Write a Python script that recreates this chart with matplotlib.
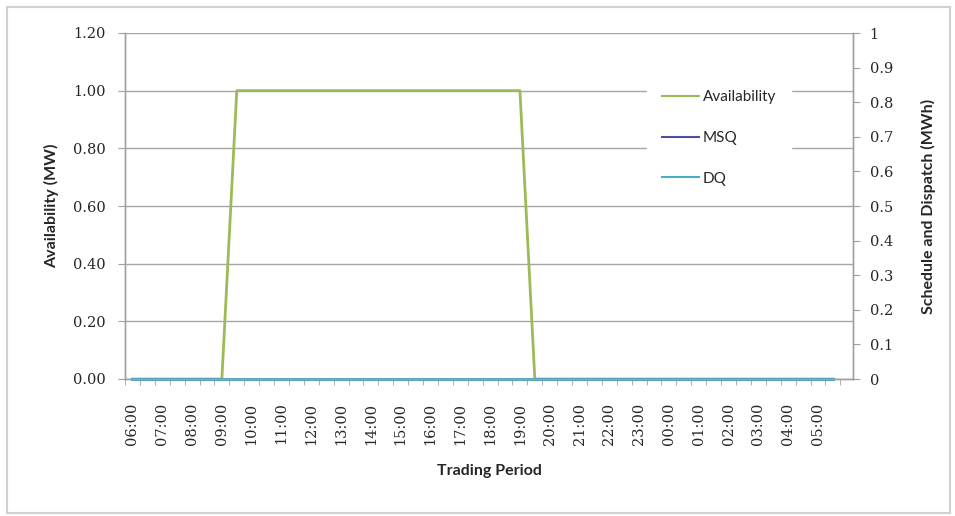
import matplotlib
matplotlib.use("Agg")
import matplotlib.pyplot as plt
from matplotlib.patches import Rectangle
from matplotlib.ticker import FixedLocator

# ---- data ----
hour_labels = ["06:00", "07:00", "08:00", "09:00", "10:00", "11:00", "12:00", "13:00",
               "14:00", "15:00", "16:00", "17:00", "18:00", "19:00", "20:00", "21:00",
               "22:00", "23:00", "00:00", "01:00", "02:00", "03:00", "04:00", "05:00"]
# 48 half-hour trading periods starting 06:00
availability = [0, 0, 0, 0, 0, 0, 0,
                 1, 1, 1, 1, 1, 1, 1, 1, 1, 1, 1, 1, 1, 1, 1, 1, 1, 1, 1, 1,
                 0, 0, 0, 0, 0, 0, 0, 0, 0, 0, 0, 0, 0, 0, 0, 0, 0, 0, 0, 0, 0]
msq = [0, 0, 0, 0, 0, 0, 0, 0, 0, 0, 0, 0, 0, 0, 0, 0, 0, 0, 0, 0, 0, 0, 0, 0,
       0, 0, 0, 0, 0, 0, 0, 0, 0, 0, 0, 0, 0, 0, 0, 0, 0, 0, 0, 0, 0, 0, 0, 0]
dq = [0, 0, 0, 0, 0, 0, 0, 0, 0, 0, 0, 0, 0, 0, 0, 0, 0, 0, 0, 0, 0, 0, 0, 0,
      0, 0, 0, 0, 0, 0, 0, 0, 0, 0, 0, 0, 0, 0, 0, 0, 0, 0, 0, 0, 0, 0, 0, 0]
left_ticks = [0.0, 0.2, 0.4, 0.6, 0.8, 1.0, 1.2]
left_tick_labels = ["0.00", "0.20", "0.40", "0.60", "0.80", "1.00", "1.20"]
right_ticks = [0.0, 0.1, 0.2, 0.3, 0.4, 0.5, 0.6, 0.7, 0.8, 0.9, 1.0]
right_tick_labels = ["0", "0.1", "0.2", "0.3", "0.4", "0.5", "0.6", "0.7", "0.8", "0.9", "1"]

C_AV = "#9BBB59"
C_MSQ = "#4F4F9F"
C_DQ = "#4BACC6"
GRID = "#A6A6A6"
AXC = "#A0A0A0"
TXT = "#262626"

fig = plt.figure(figsize=(9.55, 5.16), dpi=100)
W, H = 955, 516
fig.patches.append(Rectangle((7 / W, 3 / H), 943 / W, 506 / H, transform=fig.transFigure,
                             fill=False, edgecolor="#D0D0D0", linewidth=1.5))

ax = fig.add_axes([125 / W, 1 - 379 / H, 728 / W, 346 / H])
ax2 = ax.twinx()

n = len(availability)
x = list(range(n))

l1, = ax.plot(x, availability, color=C_AV, linewidth=2.0, label="Availability", zorder=3)
l2, = ax2.plot(x, msq, color=C_MSQ, linewidth=2.0, label="MSQ", clip_on=False)
l3, = ax2.plot(x, dq, color=C_DQ, linewidth=2.0, label="DQ", clip_on=False)

ax.set_xlim(-0.5, n + 0.35)
ax.set_ylim(0, 1.2)
ax2.set_ylim(0, 1)

ax.set_yticks(left_ticks)
ax.set_yticklabels(left_tick_labels)
ax2.set_yticks(right_ticks)
ax2.set_yticklabels(right_tick_labels)

ax.set_xticks(x[::2])
ax.set_xticklabels(hour_labels, rotation=90)
ax.xaxis.set_minor_locator(FixedLocator([i - 0.5 for i in range(n + 1)]))
ax.tick_params(axis="x", which="major", length=0, pad=17)
ax.tick_params(axis="x", which="minor", length=4, color=AXC, direction="out")

ax.grid(axis="y", color=GRID, linewidth=1.0)
ax.set_axisbelow(True)

for a in (ax, ax2):
    a.spines["top"].set_visible(False)
    for s in ("left", "right", "bottom"):
        a.spines[s].set_color(AXC)
        a.spines[s].set_linewidth(1.0)

ax.tick_params(axis="y", length=5, color=AXC, pad=9, labelcolor=TXT)
ax2.tick_params(axis="y", length=5, color=AXC, pad=7, labelcolor=TXT)
for lab in ax.get_yticklabels() + ax.get_xticklabels() + ax2.get_yticklabels():
    lab.set_fontfamily("DejaVu Serif")
    lab.set_fontsize(10.5)
    lab.set_color(TXT)

lab_font = dict(family="Lato", size=11.5, weight="bold", color=TXT)
ax.set_ylabel("Availability (MW)", labelpad=10, **lab_font)
ax2.set_ylabel("Schedule and Dispatch (MWh)", labelpad=20, **lab_font)
ax.set_xlabel("Trading Period", labelpad=14, **lab_font)

leg = ax2.legend(handles=[l1, l2, l3], loc="center left",
                 bbox_to_anchor=(647 / W, 1 - 138 / H), bbox_transform=fig.transFigure,
                 frameon=True, framealpha=1, facecolor="white", edgecolor="white",
                 fancybox=False, borderaxespad=0, borderpad=1.0,
                 handlelength=2.4, handletextpad=0.25, labelspacing=1.75,
                 prop=dict(family="Lato", size=11))
for t in leg.get_texts():
    t.set_color(TXT)
for h in leg.get_lines():
    h.set_linewidth(1.5)

fig.savefig("out.png", dpi=100)
